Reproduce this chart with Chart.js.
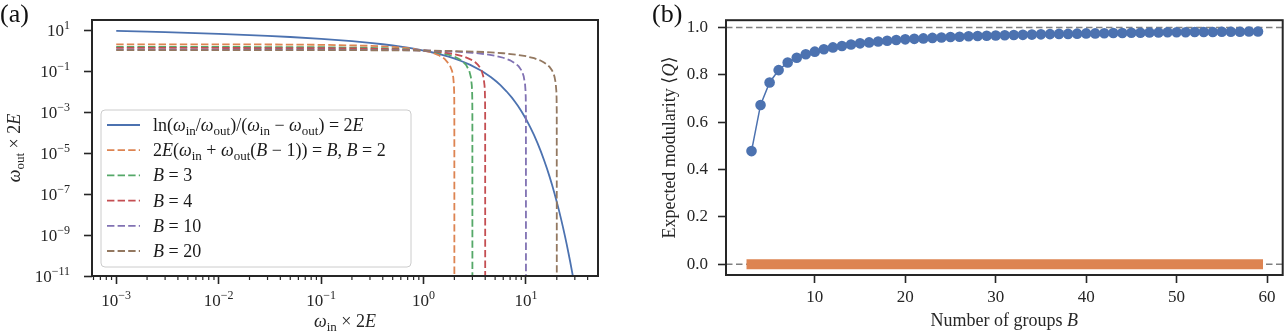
<!DOCTYPE html>
<html>
<head>
<meta charset="utf-8">
<script src="https://cdn.jsdelivr.net/npm/chart.js@4.4.0/dist/chart.umd.min.js"></script>
<style>
  html, body { margin: 0; padding: 0; background: #fff; }
  #wrapA { position: absolute; left: 0; top: 0; width: 620px; height: 333px; }
  #wrapB { position: absolute; left: 620px; top: 0; width: 668px; height: 333px; }
</style>
</head>
<body>
<div id="wrapA"><canvas id="chartA" width="620" height="333"></canvas></div>
<div id="wrapB"><canvas id="chartB" width="668" height="333"></canvas></div>
<script>
// ---- panel (a): w_out*2E against w_in*2E ----
const detX = [0.001, 0.002, 0.003, 0.005, 0.01, 0.02, 0.03, 0.05, 0.1, 0.2, 0.3, 0.4, 0.5, 0.6, 0.7, 0.8, 0.9, 1.0,
  1.105, 1.228, 1.375, 1.549, 1.757, 2.018, 2.36, 2.86, 3.71, 4.565, 5.18, 5.666, 6.48, 7.29, 7.875, 8.338, 9.12,
  10, 11, 12, 13, 14, 15, 16, 17, 18, 19, 20, 21, 22, 23, 24, 25, 26, 27, 28, 29, 30];
const detY = [9.12, 8.34, 7.875, 7.29, 6.48, 5.666, 5.18, 4.565, 3.71, 2.86, 2.36, 2.018, 1.757, 1.549, 1.375, 1.228, 1.105, 1.0,
  0.9, 0.8, 0.7, 0.6, 0.5, 0.4, 0.3, 0.2, 0.1, 0.05, 0.03, 0.02, 0.01, 0.005, 0.003, 0.002, 0.001,
  4.54e-4, 1.84e-4, 7.37e-5, 2.94e-5, 1.16e-5, 4.59e-6, 1.80e-6, 7.04e-7, 2.74e-7, 1.07e-7, 4.12e-8, 1.59e-8,
  6.14e-9, 2.36e-9, 9.06e-10, 3.47e-10, 1.33e-10, 5.08e-11, 1.94e-11, 7.38e-12, 2.81e-12];

const b2X = [0.001, 0.01, 0.03, 0.1, 0.3, 0.5, 0.7, 1.0, 1.2, 1.4, 1.6, 1.8, 1.9, 1.95, 1.98, 1.99, 1.995, 1.999, 2.0];
const b2Y = [1.999, 1.99, 1.97, 1.9, 1.7, 1.5, 1.3, 1.0, 0.8, 0.6, 0.4, 0.2, 0.1, 0.05, 0.02, 0.01, 0.005, 0.001, 1e-12];
const b3X = [0.001, 0.01, 0.1, 0.3, 0.5, 1.0, 1.25, 1.5, 1.75, 2.0, 2.2, 2.4, 2.6, 2.8, 2.9, 2.96, 2.98, 2.99, 2.998, 3.0];
const b3Y = [1.4995, 1.495, 1.45, 1.35, 1.25, 1.0, 0.875, 0.75, 0.625, 0.5, 0.4, 0.3, 0.2, 0.1, 0.05, 0.02, 0.01, 0.005, 0.001, 1e-12];
const b4X = [0.001, 0.01, 0.1, 0.3, 0.5, 1.0, 1.5, 2.0, 2.5, 3.0, 3.2, 3.4, 3.55, 3.7, 3.85, 3.94, 3.97, 3.985, 3.997, 4.0];
const b4Y = [1.333, 1.33, 1.3, 1.233, 1.167, 1.0, 0.833, 0.667, 0.5, 0.333, 0.267, 0.2, 0.15, 0.1, 0.05, 0.02, 0.01, 0.005, 0.001, 1e-12];
const b10X = [0.001, 0.01, 0.1, 0.5, 1, 2, 3, 4, 5, 6, 7, 8, 8.5, 9, 9.25, 9.5, 9.8, 9.9, 9.95, 9.99, 10];
const b10Y = [1.111, 1.11, 1.1, 1.056, 1.0, 0.889, 0.778, 0.667, 0.556, 0.444, 0.333, 0.222, 0.167, 0.111, 0.0833, 0.0556, 0.0222, 0.0111, 0.00556, 0.00111, 1e-12];
const b20X = [0.001, 0.01, 0.1, 0.5, 1, 2, 4, 6, 8, 10, 12, 14, 15, 16, 17, 18, 18.5, 19, 19.5, 19.8, 19.9, 19.98, 20];
const b20Y = [1.0526, 1.052, 1.047, 1.026, 1.0, 0.947, 0.842, 0.737, 0.632, 0.526, 0.421, 0.316, 0.263, 0.211, 0.158, 0.105, 0.0789, 0.0526, 0.0263, 0.0105, 0.00526, 0.00105, 1e-12];

const aXMajor = [1e-3, 1e-2, 1e-1, 1, 10];
const aXExp = ['−3', '−2', '−1', '0', '1'];
const aYMajor = [1e-11, 1e-9, 1e-7, 1e-5, 1e-3, 1e-1, 10];
const aYExp = ['−11', '−9', '−7', '−5', '−3', '−1', '1'];

// ---- panel (b): expected modularity against number of groups ----
const groupsB = [3, 4, 5, 6, 7, 8, 9, 10, 11, 12,
  13, 14, 15, 16, 17, 18, 19, 20, 21, 22,
  23, 24, 25, 26, 27, 28, 29, 30, 31, 32,
  33, 34, 35, 36, 37, 38, 39, 40, 41, 42,
  43, 44, 45, 46, 47, 48, 49, 50, 51, 52,
  53, 54, 55, 56, 57, 58, 59];
const modularity = [0.478, 0.673, 0.768, 0.820, 0.852, 0.872, 0.887, 0.898, 0.908, 0.916,
  0.922, 0.928, 0.933, 0.937, 0.941, 0.944, 0.947, 0.950, 0.952, 0.954,
  0.956, 0.958, 0.960, 0.961, 0.963, 0.964, 0.965, 0.966, 0.967, 0.968,
  0.969, 0.970, 0.971, 0.972, 0.973, 0.973, 0.974, 0.975, 0.975, 0.976,
  0.977, 0.977, 0.978, 0.978, 0.979, 0.979, 0.980, 0.980, 0.980, 0.981,
  0.981, 0.981, 0.982, 0.982, 0.982, 0.983, 0.983];
const nullModularity = [0.0, 0.0, 0.0, 0.0, 0.0, 0.0, 0.0, 0.0, 0.0, 0.0,
  0.0, 0.0, 0.0, 0.0, 0.0, 0.0, 0.0, 0.0, 0.0, 0.0,
  0.0, 0.0, 0.0, 0.0, 0.0, 0.0, 0.0, 0.0, 0.0, 0.0,
  0.0, 0.0, 0.0, 0.0, 0.0, 0.0, 0.0, 0.0, 0.0, 0.0,
  0.0, 0.0, 0.0, 0.0, 0.0, 0.0, 0.0, 0.0, 0.0, 0.0,
  0.0, 0.0, 0.0, 0.0, 0.0, 0.0, 0.0];
const refLines = [0, 1];
const bTicks = [10, 20, 30, 40, 50, 60];
const qTicks = [0, 0.2, 0.4, 0.6, 0.8, 1.0];

// text, with 'r' roman, 'i' italic, 's' subscript, 'p' superscript
const legendLabels = [
  [['ln(', 'r'], ['ω', 'i'], ['in', 's'], ['/', 'r'], ['ω', 'i'], ['out', 's'], [')/(', 'r'], ['ω', 'i'], ['in', 's'],
   [' − ', 'r'], ['ω', 'i'], ['out', 's'], [') = 2', 'r'], ['E', 'i']],
  [['2', 'r'], ['E', 'i'], ['(', 'r'], ['ω', 'i'], ['in', 's'], [' + ', 'r'], ['ω', 'i'], ['out', 's'], ['(', 'r'],
   ['B', 'i'], [' − 1)) = ', 'r'], ['B', 'i'], [', ', 'r'], ['B', 'i'], [' = 2', 'r']],
  [['B', 'i'], [' = 3', 'r']],
  [['B', 'i'], [' = 4', 'r']],
  [['B', 'i'], [' = 10', 'r']],
  [['B', 'i'], [' = 20', 'r']]
];
const aXTitle = [['ω', 'i'], ['in', 's'], [' × 2', 'r'], ['E', 'i']];
const aYTitle = [['ω', 'i'], ['out', 's'], [' × 2', 'r'], ['E', 'i']];
const bXTitle = [['Number of groups ', 'r'], ['B', 'i']];
const bYTitle = [['Expected modularity ', 'r'], ['⟨', 'r'], ['Q', 'i'], ['⟩', 'r']];

const INK = '#262626';
const SERIF = '"Liberation Serif", "DejaVu Serif", serif';
const COLORS = ['#4c72b0', '#dd8452', '#55a868', '#c44e52', '#8172b3', '#937860'];
const DASH = [7.4, 3.2];

function fontFor(kind, size) {
  if (kind === 'i') return 'italic ' + size + 'px ' + SERIF;
  if (kind === 's' || kind === 'p') return Math.round(size * 0.7) + 'px ' + SERIF;
  return size + 'px ' + SERIF;
}

function drawRich(ctx, segs, x, y, size, align) {
  let w = 0;
  segs.forEach(s => { ctx.font = fontFor(s[1], size); w += ctx.measureText(s[0]).width; });
  let cx = align === 'center' ? x - w / 2 : (align === 'right' ? x - w : x);
  ctx.textAlign = 'left';
  ctx.textBaseline = 'alphabetic';
  segs.forEach(s => {
    ctx.font = fontFor(s[1], size);
    const dy = s[1] === 's' ? size * 0.22 : (s[1] === 'p' ? -size * 0.42 : 0);
    ctx.fillText(s[0], cx, y + dy);
    cx += ctx.measureText(s[0]).width;
  });
}

function line(ctx, x1, y1, x2, y2) {
  ctx.beginPath(); ctx.moveTo(x1, y1); ctx.lineTo(x2, y2); ctx.stroke();
}

function toPoints(xs, ys) {
  return xs.map((x, i) => ({ x: x, y: ys[i] }));
}

const boxPlugin = {
  id: 'box',
  afterDatasetsDraw(chart) {
    const a = chart.chartArea, ctx = chart.ctx;
    ctx.save();
    ctx.strokeStyle = INK;
    ctx.lineWidth = 2;
    ctx.strokeRect(a.left, a.top, a.right - a.left, a.bottom - a.top);
    ctx.restore();
  }
};

// minor ticks, power labels, legend and titles for panel (a)
const panelA = {
  id: 'panelA',
  afterDraw(chart) {
    const ctx = chart.ctx, a = chart.chartArea, x = chart.scales.x, y = chart.scales.y;
    ctx.save();
    ctx.strokeStyle = INK;
    ctx.lineWidth = 1.2;
    for (let d = 1e-4; d < 100; d *= 10) {
      for (let m = 2; m <= 9; m++) {
        const px = x.getPixelForValue(m * d);
        if (px > a.left + 1 && px < a.right - 1) line(ctx, px, a.bottom, px, a.bottom + 4);
      }
    }
    ctx.fillStyle = INK;
    aXMajor.forEach((v, i) => {
      drawRich(ctx, [['10', 'r'], [aXExp[i], 'p']], x.getPixelForValue(v), a.bottom + 30, 17, 'center');
    });
    aYMajor.forEach((v, i) => {
      drawRich(ctx, [['10', 'r'], [aYExp[i], 'p']], a.left - 22, y.getPixelForValue(v) + 6, 17, 'right');
    });
    drawRich(ctx, aXTitle, (a.left + a.right) / 2, 327, 18, 'center');
    ctx.save();
    ctx.translate(20, (a.top + a.bottom) / 2);
    ctx.rotate(-Math.PI / 2);
    drawRich(ctx, aYTitle, 0, 0, 18, 'center');
    ctx.restore();
    ctx.fillStyle = '#111';
    ctx.font = '26px ' + SERIF;
    ctx.textAlign = 'left';
    ctx.fillText('(a)', 0, 22);

    // legend
    const lx = a.left + 9, ly = a.top + 90, lw = 310, lh = 157;
    ctx.fillStyle = 'rgba(255,255,255,0.85)';
    ctx.strokeStyle = '#cccccc';
    ctx.lineWidth = 1;
    ctx.beginPath();
    ctx.roundRect(lx, ly, lw, lh, 4);
    ctx.fill();
    ctx.stroke();
    legendLabels.forEach((segs, i) => {
      const ds = chart.data.datasets[i];
      const ry = ly + 15 + i * 25.2;
      ctx.strokeStyle = ds.borderColor;
      ctx.lineWidth = 1.8;
      ctx.setLineDash(ds.borderDash || []);
      line(ctx, lx + 6, ry, lx + 39, ry);
      ctx.setLineDash([]);
      ctx.fillStyle = '#1a1a1a';
      drawRich(ctx, segs, lx + 52, ry + 6, 18, 'left');
    });
    ctx.restore();
  }
};

const panelB = {
  id: 'panelB',
  beforeDatasetsDraw(chart) {
    const ctx = chart.ctx, a = chart.chartArea, y = chart.scales.y;
    ctx.save();
    ctx.strokeStyle = '#808080';
    ctx.lineWidth = 1.6;
    ctx.setLineDash([6.5, 3.5]);
    refLines.forEach(v => {
      const py = y.getPixelForValue(v);
      line(ctx, a.left, py, a.right, py);
    });
    ctx.restore();
  },
  afterDraw(chart) {
    const ctx = chart.ctx, a = chart.chartArea;
    ctx.save();
    ctx.fillStyle = INK;
    drawRich(ctx, bXTitle, (a.left + a.right) / 2, 326, 18, 'center');
    ctx.translate(55, (a.top + a.bottom) / 2);
    ctx.rotate(-Math.PI / 2);
    drawRich(ctx, bYTitle, 0, 0, 18, 'center');
    ctx.restore();
    ctx.save();
    ctx.fillStyle = '#111';
    ctx.font = '26px ' + SERIF;
    ctx.textAlign = 'left';
    ctx.textBaseline = 'alphabetic';
    ctx.fillText('(b)', 32, 22);
    ctx.restore();
  }
};

const tickGrid = { drawOnChartArea: false, drawTicks: true, tickLength: 8, tickWidth: 1.6, tickColor: INK };

new Chart(document.getElementById('chartA'), {
  type: 'line',
  data: {
    datasets: [
      { data: toPoints(detX, detY), borderColor: COLORS[0], borderWidth: 1.8, order: 5 },
      { data: toPoints(b2X, b2Y), borderColor: COLORS[1], borderWidth: 1.8, borderDash: DASH, order: 4 },
      { data: toPoints(b3X, b3Y), borderColor: COLORS[2], borderWidth: 1.8, borderDash: DASH, order: 3 },
      { data: toPoints(b4X, b4Y), borderColor: COLORS[3], borderWidth: 1.8, borderDash: DASH, order: 2 },
      { data: toPoints(b10X, b10Y), borderColor: COLORS[4], borderWidth: 1.8, borderDash: DASH, order: 1 },
      { data: toPoints(b20X, b20Y), borderColor: COLORS[5], borderWidth: 1.8, borderDash: DASH, order: 0 }
    ]
  },
  options: {
    responsive: false,
    animation: false,
    layout: { padding: { left: 0, right: 22, top: 20, bottom: 0 } },
    plugins: { legend: { display: false }, tooltip: { enabled: false } },
    elements: { point: { radius: 0 }, line: { tension: 0, fill: false } },
    datasets: { line: { clip: 0 } },
    scales: {
      x: {
        type: 'logarithmic', min: 5.8e-4, max: 50.5,
        afterBuildTicks: s => { s.ticks = aXMajor.map(v => ({ value: v })); },
        afterFit: s => { s.height = 57; },
        ticks: { display: false },
        grid: tickGrid,
        border: { display: false }
      },
      y: {
        type: 'logarithmic', min: 1e-11, max: 30.8,
        afterBuildTicks: s => { s.ticks = aYMajor.map(v => ({ value: v })); },
        afterFit: s => { s.width = 92; },
        ticks: { display: false },
        grid: tickGrid,
        border: { display: false }
      }
    }
  },
  plugins: [boxPlugin, panelA]
});

new Chart(document.getElementById('chartB'), {
  type: 'line',
  data: {
    datasets: [
      { data: toPoints(groupsB, modularity), borderColor: COLORS[0], backgroundColor: COLORS[0], borderWidth: 1.5,
        pointRadius: 5.3, pointBorderWidth: 0, pointBackgroundColor: COLORS[0] },
      { data: toPoints(groupsB, nullModularity), borderColor: COLORS[1], borderWidth: 10, borderCapStyle: 'square',
        pointRadius: 0 }
    ]
  },
  options: {
    responsive: false,
    animation: false,
    layout: { padding: { left: 0, right: 2, top: 20, bottom: 0 } },
    plugins: { legend: { display: false }, tooltip: { enabled: false } },
    elements: { line: { tension: 0, fill: false } },
    scales: {
      x: {
        type: 'linear', min: 0.18, max: 61.73,
        afterBuildTicks: s => { s.ticks = bTicks.map(v => ({ value: v })); },
        afterFit: s => { s.height = 58; },
        ticks: { font: { family: SERIF, size: 17 }, color: INK, padding: 4, maxRotation: 0 },
        grid: tickGrid,
        border: { display: false }
      },
      y: {
        type: 'linear', min: -0.0451, max: 1.0308,
        afterBuildTicks: s => { s.ticks = qTicks.map(v => ({ value: v })); },
        afterFit: s => { s.width = 106; },
        ticks: { font: { family: SERIF, size: 17 }, color: INK, padding: 10, callback: v => v.toFixed(1) },
        grid: tickGrid,
        border: { display: false }
      }
    }
  },
  plugins: [boxPlugin, panelB]
});
</script>
</body>
</html>
